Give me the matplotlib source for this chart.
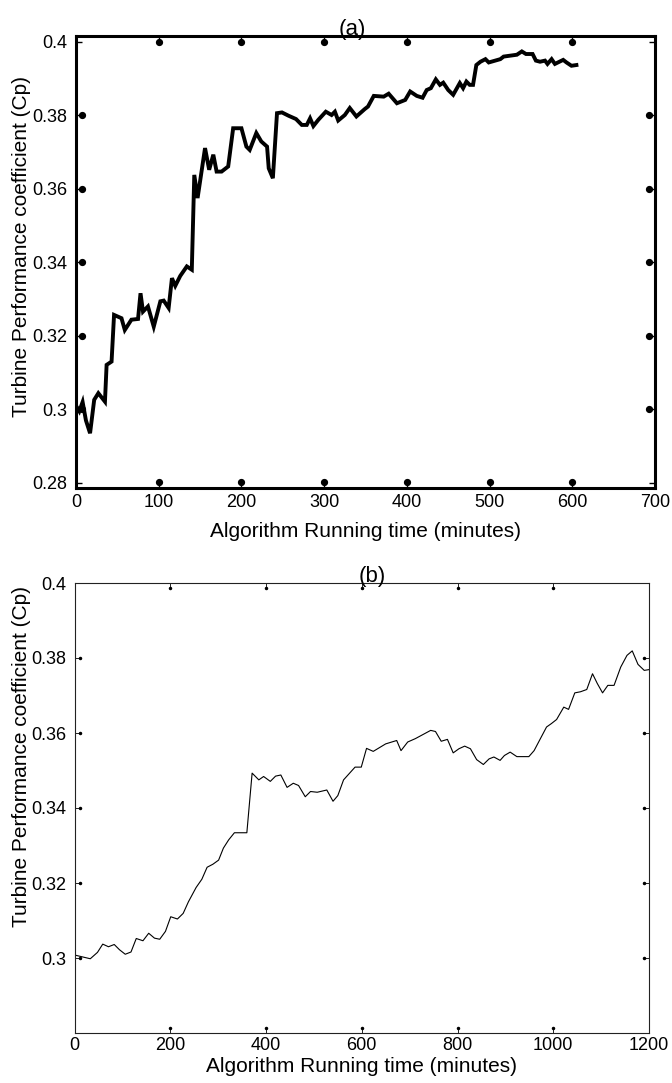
import matplotlib
matplotlib.use('Agg')
import matplotlib.pyplot as plt
from matplotlib.transforms import blended_transform_factory, ScaledTranslation

plt.rcParams['font.family'] = ['Liberation Sans', 'DejaVu Sans']
TICKFONT = ['Liberation Sans Narrow', 'Liberation Sans', 'DejaVu Sans']

# panel (a): Cp vs running time, 0-600 min
time_a = [0, 4, 8, 12, 17, 22, 27, 35, 37, 43, 46, 55, 59, 67, 75, 78, 81, 87, 94,
          102, 106, 112, 116, 120, 126, 134, 140, 143, 147, 156, 161, 166, 170, 176,
          184, 190, 200, 206, 210, 218, 224, 231, 233, 238, 243, 249, 257, 261, 266,
          273, 279, 283, 287, 293, 302, 309, 313, 317, 325, 331, 339, 349, 353, 360,
          372, 378, 388, 398, 404, 412, 419, 424, 429, 435, 440, 444, 450, 456, 464,
          468, 472, 476, 480, 484, 489, 495, 499, 513, 517, 533, 539, 544, 552, 556,
          561, 567, 570, 575, 579, 589, 593, 599, 605]
cp_a = [0.301, 0.2995, 0.302, 0.297, 0.2935, 0.3026, 0.3044, 0.3021, 0.3121, 0.313,
        0.3257, 0.3248, 0.3216, 0.3244, 0.3246, 0.3316, 0.3266, 0.328, 0.3225,
        0.3294, 0.3296, 0.3276, 0.3357, 0.3336, 0.3363, 0.3389, 0.338, 0.3638,
        0.3575, 0.3711, 0.3652, 0.3693, 0.3647, 0.3647, 0.3661, 0.3765, 0.3765,
        0.3715, 0.3706, 0.3752, 0.3729, 0.3715, 0.3656, 0.3629, 0.3806, 0.3808,
        0.3799, 0.3795, 0.379, 0.3774, 0.3774, 0.3792, 0.3771, 0.3788, 0.381,
        0.3801, 0.381, 0.3786, 0.3801, 0.382, 0.3797, 0.3817, 0.3824, 0.3853,
        0.3851, 0.3859, 0.3833, 0.3842, 0.3865, 0.3853, 0.3848, 0.3869, 0.3874,
        0.3898, 0.3883, 0.3889, 0.3869, 0.3856, 0.3888, 0.3874, 0.3892, 0.3883,
        0.3883, 0.3937, 0.3946, 0.3953, 0.3944, 0.3953, 0.396, 0.3965, 0.3974,
        0.3967, 0.3967, 0.3949, 0.3946, 0.3949, 0.394, 0.3953, 0.394, 0.3951,
        0.3944, 0.3935, 0.3937]

# panel (b): Cp vs running time, 0-1200 min
time_b = [0, 33, 48, 59, 71, 83, 94, 106, 118, 129, 143, 155, 167, 178, 190, 201,
          215, 227, 238, 254, 266, 277, 289, 301, 311, 322, 334, 360, 371, 385, 395,
          409, 420, 431, 444, 457, 468, 482, 493, 507, 527, 540, 550, 562, 586, 599,
          610, 624, 650, 673, 682, 696, 712, 728, 744, 754, 766, 779, 791, 803, 815,
          827, 840, 854, 866, 876, 889, 898, 910, 924, 949, 960, 974, 986, 996, 1007,
          1022, 1032, 1045, 1057, 1070, 1082, 1092, 1103, 1114, 1127, 1141, 1154,
          1165, 1177, 1190, 1200]
cp_b = [0.3008, 0.2998, 0.3015, 0.3037, 0.303, 0.3036, 0.3022, 0.301, 0.3016,
        0.3052, 0.3046, 0.3066, 0.3053, 0.305, 0.3071, 0.311, 0.3104, 0.3119,
        0.315, 0.3188, 0.321, 0.3242, 0.325, 0.3261, 0.3293, 0.3315, 0.3334,
        0.3334, 0.3493, 0.3475, 0.3484, 0.3471, 0.3485, 0.3488, 0.3455, 0.3466,
        0.346, 0.343, 0.3444, 0.3442, 0.3448, 0.3418, 0.3433, 0.3475, 0.3509,
        0.3509, 0.3559, 0.3551, 0.3571, 0.358, 0.3553, 0.3576, 0.3585, 0.3596,
        0.3607, 0.3604, 0.3578, 0.3583, 0.3547, 0.3558, 0.3565, 0.3558, 0.3529,
        0.3516, 0.3531, 0.3536, 0.3527, 0.354, 0.3549, 0.3537, 0.3537, 0.3553,
        0.3587, 0.3616, 0.3625, 0.3636, 0.3669, 0.3663, 0.3707, 0.371, 0.3716,
        0.3758, 0.3732, 0.3707, 0.3727, 0.3727, 0.3776, 0.3807, 0.3819, 0.3783,
        0.3767, 0.3769]

xticks_a = [0, 100, 200, 300, 400, 500, 600, 700]
yticks_a = [0.28, 0.3, 0.32, 0.34, 0.36, 0.38, 0.4]
ylabels_a = ['0.28', '0.3', '0.32', '0.34', '0.36', '0.38', '0.4']
xticks_b = [0, 200, 400, 600, 800, 1000, 1200]
yticks_b = [0.3, 0.32, 0.34, 0.36, 0.38, 0.4]
ylabels_b = ['0.3', '0.32', '0.34', '0.36', '0.38', '0.4']

xlab = 'Algorithm Running time (minutes)'
ylab = 'Turbine Performance coefficient (Cp)'

fig = plt.figure(figsize=(6.72, 10.83), dpi=100)
W, H = 672, 1083
ax1 = fig.add_axes([76 / W, 1 - 488 / H, 579 / W, 452 / H])
ax2 = fig.add_axes([74.5 / W, 1 - 1033 / H, 574.5 / W, 450 / H])


def tick_dots(ax, xs, ys, inset, ms):
    # MATLAB-like heavy inward ticks that show up as dots
    bx = blended_transform_factory(ax.transData, ax.transAxes)
    by = blended_transform_factory(ax.transAxes, ax.transData)
    d = inset / 100
    for yy, dy in [(0, d), (1, -d)]:
        ax.plot(xs, [yy] * len(xs), 'o', ms=ms, color='k', clip_on=False,
                transform=bx + ScaledTranslation(0, dy, fig.dpi_scale_trans))
    for xx, dx in [(0, d), (1, -d)]:
        ax.plot([xx] * len(ys), ys, 'o', ms=ms, color='k', clip_on=False,
                transform=by + ScaledTranslation(dx, 0, fig.dpi_scale_trans))


def style_ticks(ax):
    for lab in ax.get_xticklabels() + ax.get_yticklabels():
        lab.set_family(TICKFONT)
        lab.set_fontsize(13)


# ---- (a)
ax1.plot(time_a, cp_a, color='k', lw=2.8, solid_joinstyle='miter')
ax1.set_xlim(0, 700)
ax1.set_ylim(0.2786, 0.4016)
ax1.set_xticks(xticks_a)
ax1.set_yticks(yticks_a)
ax1.set_yticklabels(ylabels_a)
for s in ax1.spines.values():
    s.set_linewidth(2.2)
ax1.tick_params(direction='in', length=4, width=1, pad=6,
                top=True, right=True)
ax1.tick_params(axis='x', pad=4)
style_ticks(ax1)
tick_dots(ax1, xticks_a[1:-1], yticks_a[1:-1], 6, 4.2)
ax1.set_xlabel(xlab, fontsize=15, labelpad=8)
ax1.set_ylabel(ylab, fontsize=15)
ax1.yaxis.set_label_coords(-0.078, 0.535)
ax1.set_title('(a)', fontsize=16, pad=1, x=0.477)

# ---- (b)
ax2.plot(time_b, cp_b, color='k', lw=0.8)
ax2.set_xlim(0, 1200)
ax2.set_ylim(0.28, 0.4)
ax2.set_xticks(xticks_b)
ax2.set_yticks(yticks_b)
ax2.set_yticklabels(ylabels_b)
for s in ax2.spines.values():
    s.set_linewidth(0.8)
    s.set_color('#222222')
ax2.tick_params(direction='in', length=4, width=0.6, pad=6,
                top=True, right=True)
ax2.tick_params(axis='x', pad=3)
style_ticks(ax2)
tick_dots(ax2, xticks_b[1:-1], yticks_b[:-1], 5, 1.5)
ax2.set_xlabel(xlab, fontsize=15, labelpad=2)
ax2.set_ylabel(ylab, fontsize=15)
ax2.yaxis.set_label_coords(-0.076, 0.615)
ax2.set_title('(b)', fontsize=16, pad=1, x=0.519)

fig.savefig('out.png', dpi=100)
